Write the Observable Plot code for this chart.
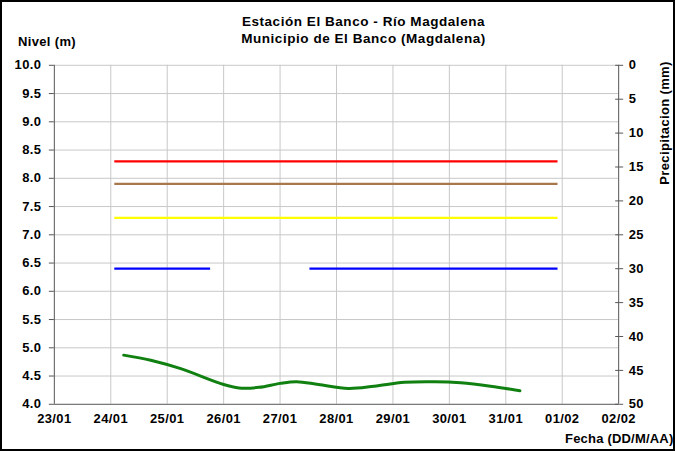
<!DOCTYPE html>
<html>
<head>
<meta charset="utf-8">
<script src="https://cdn.jsdelivr.net/npm/d3@7"></script>
<script src="https://cdn.jsdelivr.net/npm/@observablehq/plot@0.6"></script>
<style>
  html, body { margin: 0; padding: 0; background: #fff; }
  #wrap { position: relative; width: 675px; height: 451px; box-sizing: border-box; border: 2px solid #000; overflow: hidden;
          font-family: "Liberation Sans", Arial, sans-serif; font-weight: bold; color: #000; }
  #chart { position: absolute; left: -2px; top: -2px; }
  .t { position: absolute; white-space: nowrap; font-size: 13px; letter-spacing: 0.35px; }
  #chart svg text { letter-spacing: 0.4px; }
</style>
</head>
<body>
<div id="wrap">
  <div id="chart"></div>
  <div class="t" style="left:49px;width:625px;text-align:center;top:11px;line-height:17px;font-size:13.5px;letter-spacing:0.55px;">Estación El Banco - Río Magdalena<br>Municipio de El Banco (Magdalena)</div>
  <div class="t" style="left:16px;top:32px;">Nivel (m)</div>
  <div class="t" style="left:563px;top:429px;letter-spacing:0.2px;">Fecha (DD/M/AA)</div>
  <div class="t" style="left:662px;top:121px;transform:translate(-50%,-50%) rotate(-90deg);">Precipitacion (mm)</div>
</div>
<script>
// ---- data ----
const parse = d3.utcParse("%Y-%m-%dT%H:%M");
const xDomain = ["2023-01-23T00:00", "2023-02-02T00:00"];
const dayTicks = ["2023-01-23","2023-01-24","2023-01-25","2023-01-26","2023-01-27","2023-01-28","2023-01-29","2023-01-30","2023-01-31","2023-02-01","2023-02-02"];
const nivelTicks = [4.0,4.5,5.0,5.5,6.0,6.5,7.0,7.5,8.0,8.5,9.0,9.5,10.0];
const precipTicks = [0,5,10,15,20,25,30,35,40,45,50];

// observed water level (green)
const levelTimes = ["2023-01-24T05:30","2023-01-24T17:00","2023-01-25T05:45","2023-01-26T00:00","2023-01-26T06:30","2023-01-26T15:00","2023-01-27T00:00","2023-01-27T07:00","2023-01-27T16:20","2023-01-28T05:00","2023-01-28T16:00","2023-01-29T04:50","2023-01-29T17:45","2023-01-30T04:50","2023-01-30T17:30","2023-01-31T06:00"];
const levelValues = [4.87,4.78,4.63,4.35,4.29,4.30,4.37,4.40,4.35,4.28,4.32,4.39,4.40,4.38,4.32,4.24];

// alert thresholds
const thresholdNames  = ["roja","naranja","amarilla","azul-1","azul-2"];
const thresholdValues = [8.3, 7.9, 7.3, 6.4, 6.4];
const thresholdStart  = ["2023-01-24T01:30","2023-01-24T01:30","2023-01-24T01:30","2023-01-24T01:30","2023-01-27T12:30"];
const thresholdEnd    = ["2023-01-31T22:00","2023-01-31T22:00","2023-01-31T22:00","2023-01-25T18:15","2023-01-31T22:00"];
const thresholdColors = ["#ff0000","#a8784c","#ffff00","#0000ff","#0000ff"];

// ---- build ----
const level = levelTimes.map((t,i) => ({t: parse(t), v: levelValues[i]}));
const thresholds = thresholdNames.map((n,i) => ({n, v: thresholdValues[i], a: parse(thresholdStart[i]), b: parse(thresholdEnd[i]), c: thresholdColors[i]}));
const days = dayTicks.map(d => d3.utcParse("%Y-%m-%d")(d));
const p2n = p => 10 - p * 6 / 50;

const plot = Plot.plot({
  width: 675, height: 451,
  marginLeft: 54, marginRight: 55, marginTop: 65, marginBottom: 46,
  style: {fontFamily: "'Liberation Sans', Arial, sans-serif", fontWeight: "bold", fontSize: "13px", color: "#000", background: "transparent"},
  x: {type: "utc", domain: xDomain.map(parse)},
  y: {domain: [4, 10]},
  marks: [
    Plot.gridX(days.slice(1, -1), {stroke: "#c8c8c8", strokeOpacity: 1, strokeWidth: 1}),
    Plot.gridY(nivelTicks.slice(1), {stroke: "#c8c8c8", strokeOpacity: 1, strokeWidth: 1}),
    Plot.ruleY([4], {stroke: "#555"}),
    Plot.ruleX([parse(xDomain[0])], {stroke: "#555"}),
    Plot.ruleX([parse(xDomain[1])], {stroke: "#555"}),
    Plot.axisX(days, {tickSize: 0, tickPadding: 10, tickFormat: d3.utcFormat("%d/%m"), label: null}),
    Plot.axisY(nivelTicks, {anchor: "left", tickSize: 5, tickPadding: 8, tickFormat: d3.format(".1f"), label: null, stroke: "#555"}),
    Plot.axisY(precipTicks.map(p2n), {anchor: "right", tickSize: 4, tickPadding: 6, tickFormat: d => String(Math.round((10 - d) * 50 / 6)), label: null, stroke: "#555"}),
    Plot.axisY(precipTicks.map(p2n), {anchor: "right", tickSize: 4, dx: -4, tickFormat: () => "", label: null, stroke: "#555"}),
    Plot.link(thresholds, {x1: "a", x2: "b", y1: "v", y2: "v", stroke: "c", strokeWidth: 2.2}),
    Plot.line(level, {x: "t", y: "v", stroke: "#108010", strokeWidth: 3, curve: "catmull-rom"})
  ]
});
document.getElementById("chart").appendChild(plot);
</script>
</body>
</html>
